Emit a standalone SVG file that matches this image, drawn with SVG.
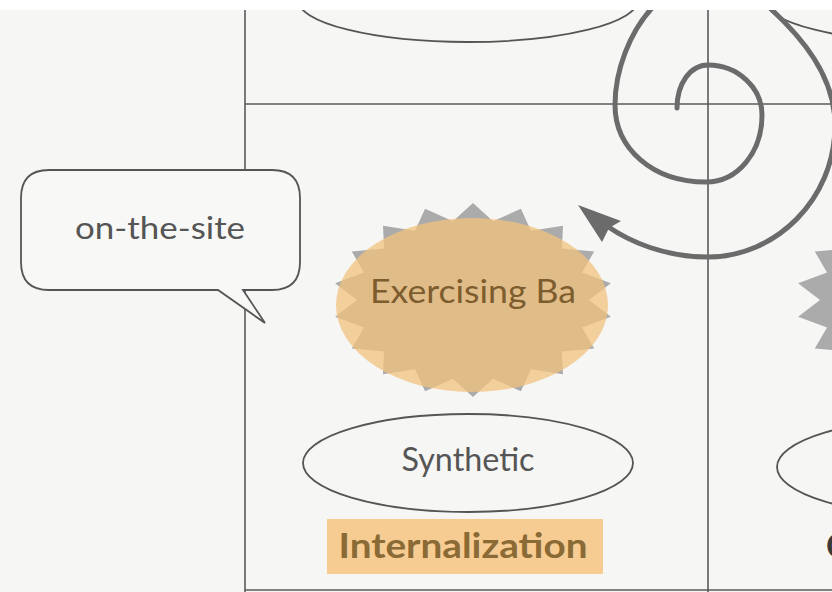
<svg xmlns="http://www.w3.org/2000/svg" width="832" height="592" viewBox="0 0 832 592">
  <style>
    .grid { stroke: #5a5a5a; stroke-width: 1.6; fill: none; }
    .outline { stroke: #555; stroke-width: 1.8; fill: none; }
    .label { font-family: Lato, "Open Sans", "Liberation Sans", sans-serif; text-anchor: middle; }
    .spiral { stroke: #6b6b6b; stroke-width: 5; fill: none; stroke-linecap: round; }
    .burst { fill: #ababab; }
  </style>
  <defs>
    <clipPath id="page">
      <rect x="0" y="10" width="832" height="582"/>
    </clipPath>
    <polygon id="star" points="473,203 493.1,221.2 520.9,208.8 531,230.7 563,225.7 561.9,248.6 594.2,251.5 582,272.6 610.9,283.2 589,300 610.9,316.8 582,327.4 594.2,348.5 561.9,351.4 563,374.3 531,369.3 520.9,391.2 493.1,378.8 473,397 452.9,378.8 425.1,391.2 415,369.3 383,374.3 384.1,351.4 351.8,348.5 364,327.4 335.1,316.8 357,300 335.1,283.2 364,272.6 351.8,251.5 384.1,248.6 383,225.7 415,230.7 425.1,208.8 452.9,221.2"/>
  </defs>

  <rect x="0" y="0" width="832" height="592" fill="#ffffff"/>
  <g clip-path="url(#page)">
    <rect x="0" y="10" width="832" height="582" fill="#f6f6f4"/>

    <!-- quadrant grid -->
    <g id="grid">
      <line class="grid" x1="245" y1="10" x2="245" y2="592"/>
      <line class="grid" x1="708" y1="10" x2="708" y2="592"/>
      <line class="grid" x1="245" y1="104" x2="832" y2="104"/>
      <line class="grid" x1="245" y1="590" x2="832" y2="590"/>
    </g>

    <!-- partial shapes of neighbouring cells -->
    <g id="top-ellipse">
      <ellipse class="outline" cx="468" cy="0" rx="170" ry="42"/>
    </g>
    <g id="top-right-ellipse">
      <ellipse class="outline" cx="935" cy="0" rx="170" ry="42"/>
    </g>
    <g id="right-burst">
      <use href="#star" class="burst" transform="translate(463,0)"/>
    </g>
    <g id="right-ellipse">
      <ellipse class="outline" cx="942" cy="467" rx="165" ry="49" fill="#f6f6f4"/>
    </g>
    <g id="right-label">
      <text x="826" y="558" font-family="Lato, 'Liberation Sans', sans-serif" font-weight="700" font-size="34" fill="#3a3a3a">C</text>
    </g>

    <!-- spiral connector -->
    <g id="connectors">
      <path class="spiral" d="M 677,108 C 677,84 690,65 708,65 C 738,65 762,88 762,115 C 762,152 738,182 706,182 C 652,182 615,148 615,105 C 615,70 630,32 652,8 C 667,-8 695,-18 725,-18 C 745,-18 760,-5 772,10 C 800,36 835,75 835,125 C 835,200 775,257 708,257 C 665,257 630,242 607,226"/>
      <polygon points="578,205 621,221 609,228 602,242" fill="#6b6b6b"/>
    </g>

    <!-- speech bubble -->
    <g id="on-the-site">
      <path d="M 49,170 H 272 Q 300,170 300,198 V 262 Q 300,290 272,290 H 243 L 265,323 L 218,290 H 49 Q 21,290 21,262 V 198 Q 21,170 49,170 Z" fill="#f8f8f7" stroke="#555" stroke-width="1.8"/>
      <text class="label" x="160" y="239" font-size="30" fill="#555" textLength="170" lengthAdjust="spacingAndGlyphs">on-the-site</text>
    </g>

    <!-- ba burst -->
    <g id="exercising-ba">
      <use href="#star" class="burst"/>
      <ellipse cx="472" cy="305" rx="136" ry="87" fill="#f2c27e" fill-opacity="0.75"/>
      <text class="label" x="473" y="303" font-size="32" fill="#7d5c2e" textLength="206" lengthAdjust="spacingAndGlyphs">Exercising Ba</text>
    </g>

    <!-- knowledge type -->
    <g id="synthetic">
      <ellipse class="outline" cx="468" cy="463" rx="165" ry="49" fill="#f6f6f4"/>
      <text class="label" x="468" y="471" font-size="32" fill="#555" textLength="133" lengthAdjust="spacingAndGlyphs">Synthetic</text>
    </g>

    <!-- conversion mode -->
    <g id="internalization">
      <rect x="327" y="519" width="276" height="55" fill="#f7cc93"/>
      <text class="label" x="463" y="558" font-size="34" font-weight="700" fill="#8a6a35" textLength="249" lengthAdjust="spacingAndGlyphs">Internalization</text>
    </g>
  </g>
</svg>
